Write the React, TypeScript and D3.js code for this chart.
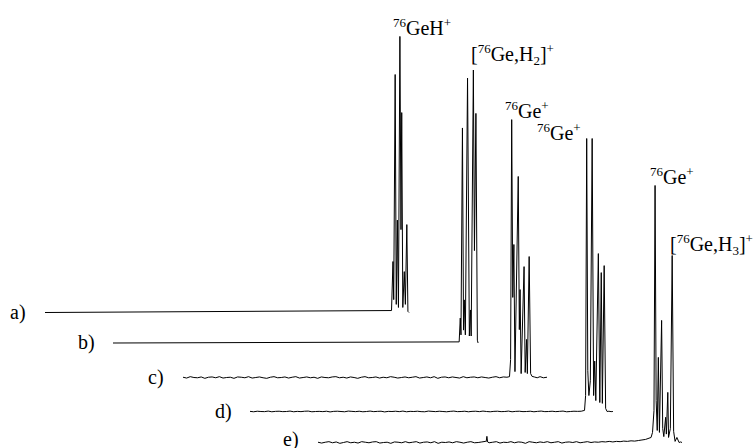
import React from 'react';
import * as d3 from 'd3';

type Pt = [number, number];

// trace names, top to bottom
const traceNames = ['a)', 'b)', 'c)', 'd)', 'e)'];

// peak regions, [channel, intensity] vertices
const peaksA: Pt[] = [
  [95.2, 0.7], [95.6, 18.2], [95.8, 4.6], [96.2, 85], [96.5, 2.9], [96.8, 33],
  [97.1, 1.8], [97.5, 98.6], [97.8, 29.6], [98.0, 71.4], [98.3, 1.8], [98.7, 14.6],
  [99.0, 2.9], [99.4, 31.4], [99.7, 0.4], [100, 0],
];
const peaksB: Pt[] = [
  [95.1, 0.4], [95.4, 8.9], [95.6, 2.9], [96.0, 76.8], [96.3, 4.6], [96.5, 15.4],
  [96.8, 2.9], [97.4, 94.6], [97.9, 2.5], [98.2, 11.8], [98.4, 2.5], [99.0, 97.5],
  [99.3, 33], [99.7, 82], [100.1, 1], [100.3, 0],
];
const peaksC: Pt[] = [
  [89.7, 0.3], [90.0, 6.4], [90.3, 92.1], [90.6, 28.6], [90.9, 47.5], [91.2, 2.1],
  [92.1, 71.8], [92.4, 17.1], [92.6, 31.4], [92.9, 1.4], [93.7, 39.6], [94.0, 1.8],
  [94.4, 13.6], [94.6, 1.4], [95.1, 43.2], [95.5, 1.4], [95.9, 0.4],
];
const peaksD: Pt[] = [
  [91.9, 0.4], [92.2, 5.7], [92.5, 97.5], [92.8, 14.6], [93.1, 5.7], [93.5, 11],
  [94.0, 97.5], [94.4, 5.7], [94.7, 18], [95.0, 3.9], [95.7, 56.4], [96.1, 3.2],
  [96.5, 49.6], [96.8, 2.9], [97.3, 52.1], [97.7, 1.1], [98.1, 0],
];
const peaksE: Pt[] = [
  [91.5, 1.8], [91.9, 3.6], [92.3, 11.4], [92.6, 91.8], [92.9, 15], [93.2, 4.3],
  [93.5, 30.4], [93.8, 3.6], [94.4, 43.6], [94.7, 5], [95.0, 2.1], [95.5, 9],
  [95.7, 3], [96.1, 17.9], [96.3, 1.8], [96.8, 5], [97.3, 66.8], [97.7, 4],
  [98.1, 0.4], [98.6, 1.8], [99.2, 0],
];

// baseline noise, one value per channel from 0
const noiseC = [
  0.1, -0.2, 0.3, 0.0, -0.1, 0.2, -0.3, 0.1, 0.2, -0.1, 0.3, -0.2, 0.0, 0.1, -0.3, 0.2, 0.1, -0.1, 0.3, -0.2,
  0.0, 0.2, -0.1, -0.3, 0.1, 0.3, -0.1, 0.0, 0.2, -0.2, 0.1, 0.3, -0.2, 0.0, 0.2, -0.1, 0.1, -0.3, 0.2, 0.0,
  -0.1, 0.2, 0.3, -0.1, 0.1, -0.2, 0.2, 0.0, -0.3, 0.1, 0.3, -0.1, 0.0, 0.2, -0.2, 0.1, -0.1, 0.3, 0.1, -0.2,
  0.0, 0.2, -0.1, 0.1, 0.3, -0.2, 0.0, 0.2, -0.1, 0.3, -0.3, 0.1, 0.2, -0.1, 0.2, 0.0, -0.2, 0.3, -0.1, 0.1,
  0.2, -0.1, 0.2, 0.0, -0.2, 0.1, 0.3, -0.1, 0.2, 0.1,
];
const noiseD = [
  0.05, -0.1, 0.1, 0.0, -0.05, 0.15, -0.1, 0.05, 0.1, -0.05, 0.0, 0.15, -0.1, 0.05, -0.05, 0.1, 0.15, -0.1, 0.0, 0.05,
  -0.05, 0.1, -0.15, 0.05, 0.1, 0.0, -0.1, 0.15, 0.05, -0.05, 0.1, -0.1, 0.0, 0.15, -0.05, 0.05, 0.1, -0.15, 0.05, 0.0,
  0.1, -0.05, 0.15, -0.1, 0.05, 0.0, 0.1, -0.05, -0.1, 0.15, 0.05, -0.05, 0.1, 0.0, -0.1, 0.05, 0.15, -0.05, 0.0, 0.1,
  -0.1, 0.05, 0.1, -0.05, 0.15, 0.0, -0.1, 0.05, 0.1, -0.05, 0.0, 0.15, -0.1, 0.05, 0.1, -0.05, 0.0, 0.1, -0.1, 0.05,
  0.15, -0.05, 0.0, 0.1, -0.05, 0.05, 0.15, -0.1, 0.0, 0.1, 0.05, 0.1,
];
const noiseE = [
  0.1, -0.2, 0.1, 0.3, -0.1, 0.2, -0.3, 0.0, 0.3, -0.1, 0.1, -0.2, 0.3, 0.1, -0.1, 0.2, 0.3, -0.2, 0.0, 0.1,
  -0.3, 0.2, 0.1, -0.1, 0.3, -0.1, 0.1, 0.3, -0.2, 0.1, 0.2, -0.1, 0.3, -0.3, 0.1, 0.0, 0.2, -0.1, 0.3, 0.1,
  -0.2, 0.1, 0.3, -0.1, 0.0, 0.2, 0.4, -0.1, 0.1, 0.3, -0.2, 0.1, 0.0, 0.3, -0.1, 0.2, 0.1, -0.3, 0.3, 0.1,
  -0.1, 0.2, 0.0, 0.3, -0.1, 0.1, 0.3, -0.2, 0.1, 0.2, 0.0, 0.3, -0.1, 0.1, 0.3, 0.0, 0.2, 0.1, 0.3, 0.2,
  0.4, 0.2, 0.4, 0.3, 0.5, 0.4, 0.6, 0.5, 0.7, 0.9, 1.1,
];
const spikeE: Pt[] = [[46.2, 0.3], [46.4, 2.2], [46.6, 0.2]];
const tailC: Pt[] = [[96.5, 0.2], [97.3, -0.1], [98.1, 0.3], [99.0, -0.1], [100, 0.1]];
const tailD: Pt[] = [[98.6, 0.1], [99.2, -0.05], [99.7, 0]];
const tailE: Pt[] = [[99.6, 0.2], [100, 0]];

// peak annotations: [text, role]
const peakLabels: [string, string][][] = [
  [['76', 'sup'], ['GeH', 'n'], ['+', 'sup']],
  [['[', 'n'], ['76', 'sup'], ['Ge,H', 'n'], ['2', 'sub'], [']', 'n'], ['+', 'sup']],
  [['76', 'sup'], ['Ge', 'n'], ['+', 'sup']],
  [['76', 'sup'], ['Ge', 'n'], ['+', 'sup']],
  [['76', 'sup'], ['Ge', 'n'], ['+', 'sup']],
  [['[', 'n'], ['76', 'sup'], ['Ge,H', 'n'], ['3', 'sub'], [']', 'n'], ['+', 'sup']],
];

const fromNoise = (vals: number[]): Pt[] => vals.map((v, i) => [i, v] as Pt);
const sortPts = (pts: Pt[]) => pts.slice().sort((p, q) => p[0] - q[0]);

const traces: Pt[][] = [
  [[0, 0], ...peaksA],
  [[0, 0], ...peaksB],
  [...fromNoise(noiseC), ...peaksC, ...tailC],
  [...fromNoise(noiseD), ...peaksD, ...tailD],
  sortPts([...fromNoise(noiseE), ...spikeE, ...peaksE, ...tailE]),
];

// layout
const W = 755;
const H = 448;
const origins = [
  { x: 45, y: 312.5 },
  { x: 113, y: 343 },
  { x: 183, y: 377.5 },
  { x: 250, y: 411.5 },
  { x: 318, y: 442.5 },
];
const nameDy = [6, 6, 6, 6, 3];
const labelPos = [
  { x: 393, y: 35 },
  { x: 471, y: 61 },
  { x: 505, y: 118 },
  { x: 537, y: 140 },
  { x: 650, y: 184 },
  { x: 670, y: 251 },
];
const FONT = '"Liberation Serif", "Times New Roman", serif';

const xScale = d3.scaleLinear().domain([0, 100]).range([0, 364]);
const yScale = d3.scaleLinear().domain([0, 100]).range([0, -280]);
const line = d3
  .line<Pt>()
  .x((d) => xScale(d[0]))
  .y((d) => yScale(d[1]));

const App = () => {
  return (
    <svg
      width={W}
      height={H}
      style={{ position: 'absolute', left: 0, top: 0, display: 'block', background: '#fff' }}
    >
      {traces.map((pts, i) => (
        <g key={i} transform={`translate(${origins[i].x},${origins[i].y})`}>
          <path d={line(pts) || ''} fill="none" stroke="#000" strokeWidth={1} strokeLinejoin="round" />
          <text x={-35} y={nameDy[i]} fontFamily={FONT} fontSize={20} fill="#000">
            {traceNames[i]}
          </text>
        </g>
      ))}
      {peakLabels.map((parts, i) => (
        <text key={i} x={labelPos[i].x} y={labelPos[i].y} fontFamily={FONT} fontSize={20} fill="#000">
          {parts.map(([t, role], j) => (
            <tspan
              key={j}
              y={labelPos[i].y + (role === 'sup' ? -8 : role === 'sub' ? 4 : 0)}
              fontSize={role === 'n' ? 20 : 13}
            >
              {t}
            </tspan>
          ))}
        </text>
      ))}
    </svg>
  );
};

export default App;
